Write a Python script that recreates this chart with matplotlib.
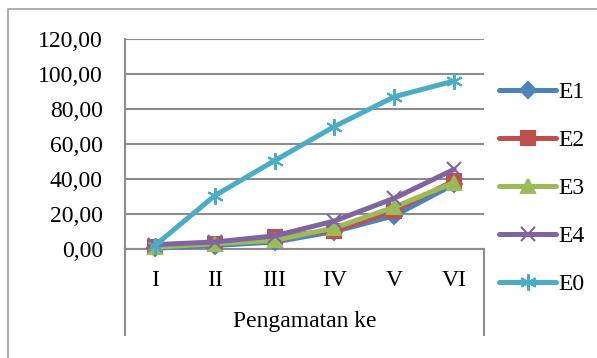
import numpy as np
import matplotlib.pyplot as plt
from matplotlib.lines import Line2D

plt.rcParams['font.family'] = ['Liberation Serif', 'DejaVu Serif']

# data
categories = ['I', 'II', 'III', 'IV', 'V', 'VI']
e1 = [0.5, 2.0, 4.0, 10.0, 19.0, 37.0]
e2 = [1.0, 3.0, 7.0, 10.5, 22.0, 39.0]
e3 = [1.0, 3.0, 5.0, 12.0, 24.0, 38.0]
e4 = [2.5, 4.0, 7.5, 16.0, 29.0, 45.5]
e0 = [2.0, 30.5, 50.5, 70.0, 87.0, 96.0]
yticks = [0, 20, 40, 60, 80, 100, 120]

W, H = 597, 358
fig = plt.figure(figsize=(W / 100, H / 100), dpi=100)

def fx(px):
    return px / W

def fy(py):
    return 1 - py / H

left, right, top, bottom = 125, 484, 39, 249
ax = fig.add_axes([fx(left), fy(bottom), fx(right - left), (bottom - top) / H])

x = np.arange(len(categories))
grid_c = '#8c8c8c'
lw = 3.6
series = [
    ('E1', e1, '#4F81BD', 'D', 8),
    ('E2', e2, '#C0504D', 's', 10),
    ('E3', e3, '#9BBB59', '^', 10),
    ('E4', e4, '#8064A2', 'x', 10),
    ('E0', e0, '#4BACC6', (6, 2, 0), 12),
]
handles = []
for name, vals, col, mk, ms in series:
    ax.plot(x, vals, color=col, lw=lw, marker=mk, ms=ms, mec=col, mew=1.5,
            solid_capstyle='round', clip_on=False, zorder=3)
    handles.append(Line2D([], [], color=col, lw=lw, marker=mk, ms=ms, mec=col,
                          mew=1.5, solid_capstyle='round'))

ax.set_xlim(-0.5, len(categories) - 0.5)
ax.set_ylim(0, 120)
ax.set_yticks(yticks)
ax.set_yticklabels([f'{v:.2f}'.replace('.', ',') for v in yticks], fontsize=17)
ax.tick_params(axis='y', length=0, pad=16)
ax.set_xticks(x)
ax.set_xticklabels(categories, fontsize=17)
ax.tick_params(axis='x', length=0, pad=15)
ax.yaxis.grid(True, color=grid_c, lw=1.5)
ax.set_axisbelow(True)
for s in ['top', 'right']:
    ax.spines[s].set_visible(False)
for s in ['left', 'bottom']:
    ax.spines[s].set_color(grid_c)
    ax.spines[s].set_linewidth(1.5)

# category box below the axis
box_bottom = 335
for px in (left, right):
    fig.add_artist(Line2D([fx(px), fx(px)], [fy(bottom), fy(box_bottom)],
                          color=grid_c, lw=1.5))
fig.text(fx(305), fy(322), 'Pengamatan ke', fontsize=17, ha='center', va='center')

# outer chart border
fig.add_artist(Line2D([fx(8), fx(8), fx(W + 5)], [fy(H + 5), fy(9), fy(9)],
                      color='#a0a0a0', lw=1.2))

fig.legend(handles, [s[0] for s in series], loc='upper left',
           bbox_to_anchor=(fx(490), fy(72)), frameon=False, fontsize=17,
           handlelength=2.4, handletextpad=0.1, labelspacing=1.12,
           borderaxespad=0)

fig.savefig('out.png', dpi=100)
